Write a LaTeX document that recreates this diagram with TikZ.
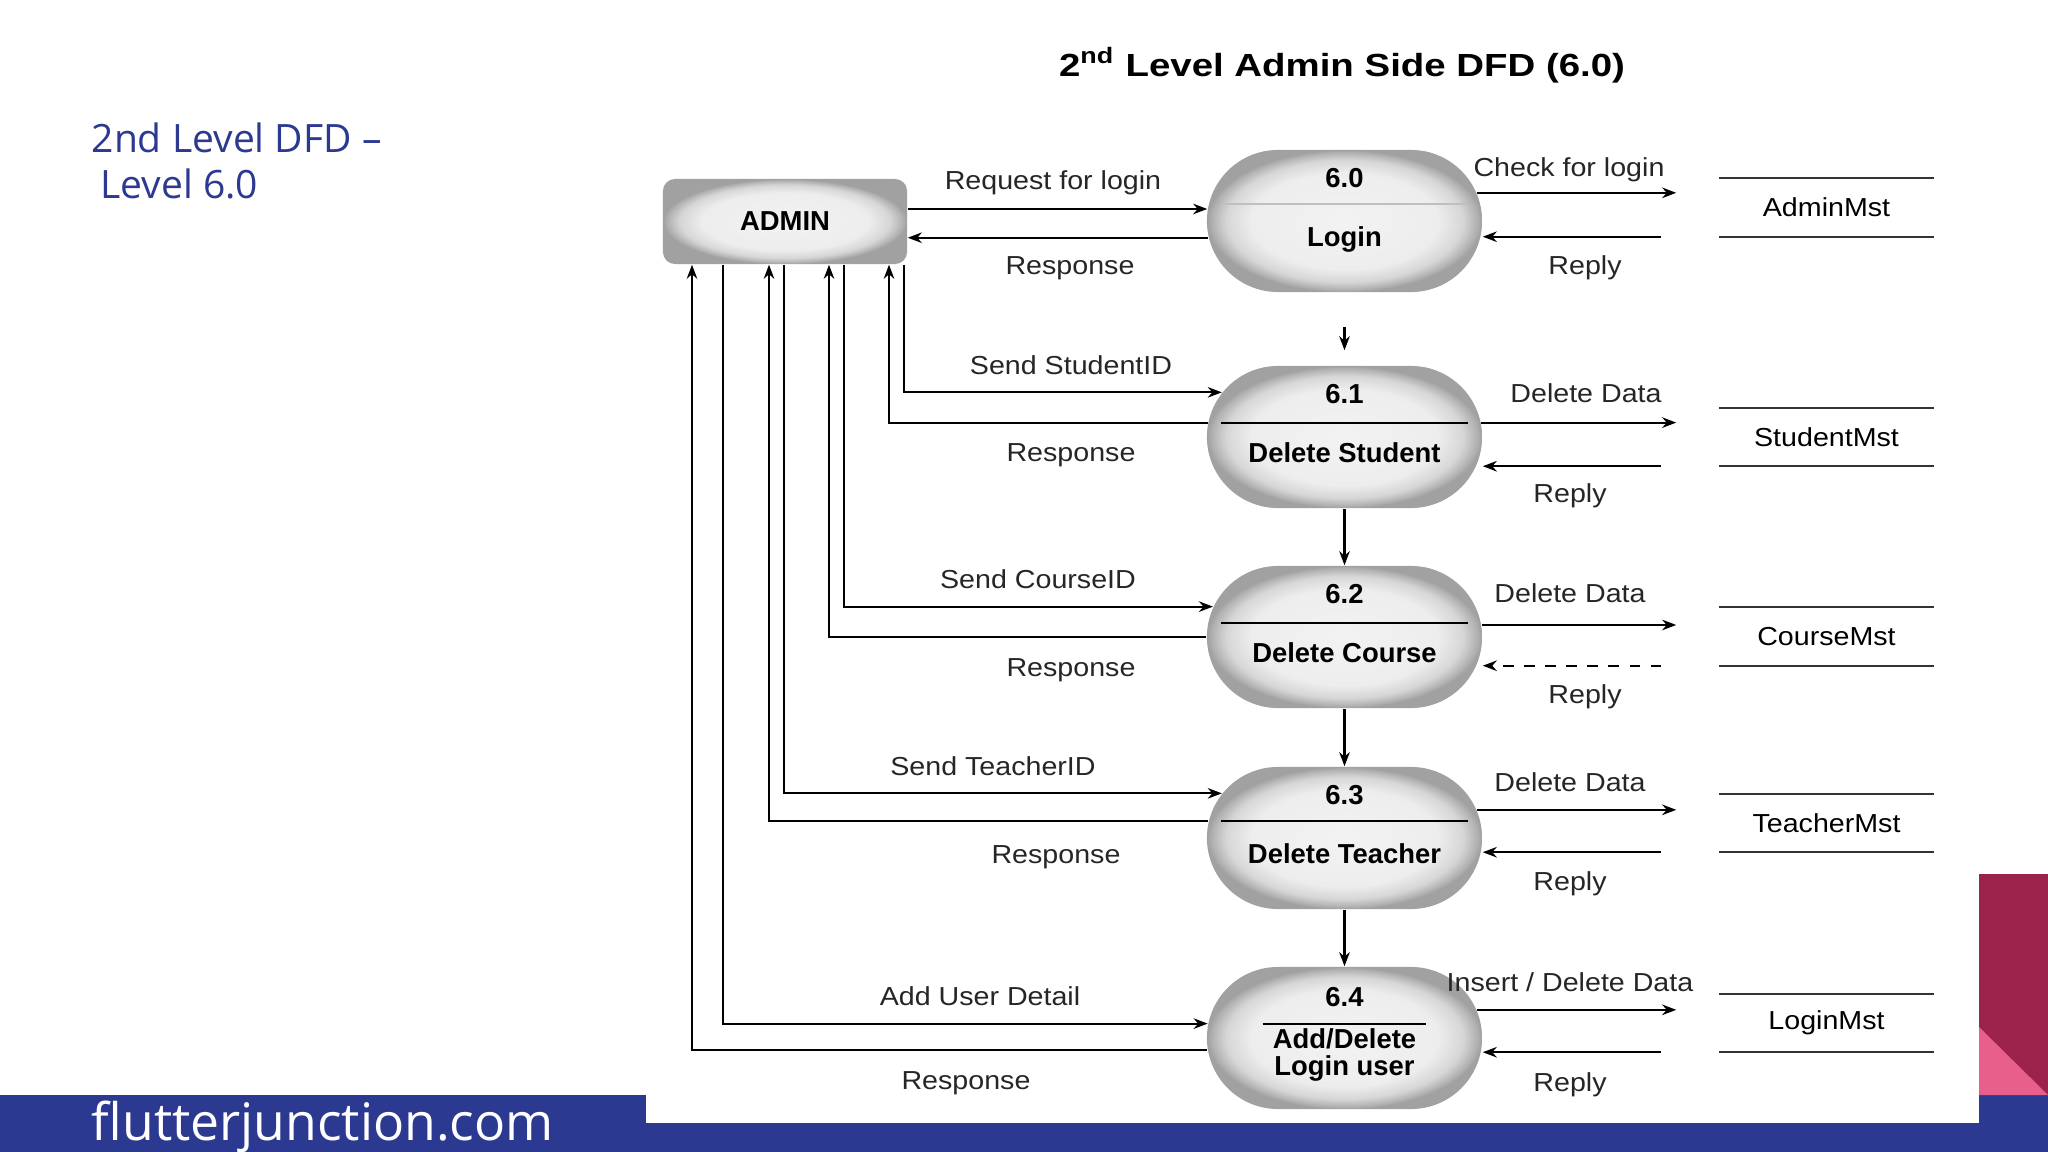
\documentclass[tikz,border=0pt]{standalone}
\usepackage{fontspec}
\setmainfont{Liberation Sans}
\newfontfamily\dfdlabel[FakeStretch=1.1]{Liberation Sans}
\newfontfamily\dfdtitle[FakeStretch=1.2]{Liberation Sans}
\newfontfamily\slidefont{Open Sans}
\usetikzlibrary{arrows.meta,shapes.misc}

\definecolor{slideblue}{RGB}{43,57,144}
\definecolor{slidewine}{RGB}{155,35,75}
\definecolor{slidepink}{RGB}{233,95,140}

% Ombrage gris des bulles
\pgfdeclareradialshading{bubble}{\pgfpointorigin}{color(0bp)=(black!5); color(17bp)=(black!7); color(21.5bp)=(black!16); color(24bp)=(black!30); color(25bp)=(black!37); color(50bp)=(black!37)}

\begin{document}
\begin{tikzpicture}[x=0.01cm, y=-0.01cm]
    \tikzset{
        flow/.style={draw, line width=0.6pt, -{Stealth[length=4pt,width=3pt]}},
        process/.style={rounded rectangle, minimum width=2.75cm, minimum height=1.42cm, inner sep=0pt, shading=bubble},
        entity/.style={rectangle, rounded corners=0.12cm, minimum width=2.44cm, minimum height=0.85cm, shading=bubble, font=\fontsize{7.8}{9}\selectfont\bfseries},
        store/.style={minimum width=2.13cm, minimum height=0.57cm, inner sep=0pt, font=\dfdlabel\fontsize{7.4}{9}\selectfont},
        storeline/.style={line width=0.6pt, black!80},
        lbl/.style={anchor=base, inner sep=0pt, font=\dfdlabel\fontsize{7.4}{9}\selectfont, text=black!85},
        procnum/.style={anchor=base, inner sep=0pt, font=\fontsize{7.8}{9}\selectfont\bfseries},
        divider/.style={line width=0.6pt}
    }

    % Fond de la diapositive
    \fill[white] (0,0) rectangle (2048,1152);
    \useasboundingbox (0,0) rectangle (2048,1152);
    \fill[slideblue] (0,1095) rectangle (2048,1152);
    \fill[white] (646,1080) rectangle (1979,1123);
    \fill[slidewine] (1979,874) rectangle (2048,1095);
    \fill[slidepink] (1979,1027) -- (1979,1095) -- (2048,1095) -- cycle;

    \node[anchor=north west, inner sep=0pt, align=left, text=slideblue, font=\slidefont\fontsize{11.1}{13.1}\selectfont] (slidetitle) at (91,122) {2nd Level DFD –\\\hspace*{0.22em}Level 6.0};
    \node[anchor=base west, inner sep=0pt, text=white, font=\slidefont\fontsize{14.7}{16}\selectfont] (site) at (91,1140) {flutterjunction.com};

    % Titre du DFD
    \node[anchor=base, inner sep=0pt, font=\dfdtitle\bfseries\fontsize{9.1}{11}\selectfont] (title) at (1342,77) {2\textsuperscript{nd} Level Admin Side DFD (6.0)};

    % Entite externe
    \node[entity] (admin) at (785,221.5) {ADMIN};

    % Processus 6.0 a 6.4
    \foreach \n/\y in {60/221,61/437,62/637,63/838,64/1038}
        \node[process] (p\n) at (1344.5,\y) {};
    \foreach \n/\num/\txt in {60/6.0/Login,61/6.1/Delete Student,62/6.2/Delete Course,63/6.3/Delete Teacher} {
        \node[procnum] (num\n) at ([yshift=0.33cm]p\n.center) {\num};
        \node[procnum] (name\n) at ([yshift=-0.25cm]p\n.center) {\txt};
    }
    \node[procnum] (num64) at ([yshift=0.31cm]p64.center) {6.4};
    \node[procnum, anchor=center, align=center, font=\fontsize{7.8}{7.7}\selectfont\bfseries] (name64) at ([yshift=-0.17cm]p64.center) {Add/Delete\\Login user};

    % Traits de separation
    \draw[divider, black!25] ([xshift=0.13cm]p60.173) -- ([xshift=-0.13cm]p60.7);
    \foreach \n/\a/\b in {61/174/6,62/174/6,63/173/7}
        \draw[divider] ([xshift=0.13cm]p\n.\a) -- ([xshift=-0.13cm]p\n.\b);
    \draw[divider] ([xshift=0.55cm]p64.174) -- ([xshift=-0.55cm]p64.6);

    % Magasins de donnees
    \foreach \n/\y/\txt in {60/207.5/AdminMst,61/437/StudentMst,62/636.5/CourseMst,63/823/TeacherMst,64/1023/LoginMst} {
        \node[store] (s\n) at (1826.5,\y) {\txt};
        \draw[storeline] (s\n.north west) -- (s\n.north east) (s\n.south west) -- (s\n.south east);
    }

    % Flux vers les magasins
    \foreach \n/\a in {60/12,61/6,62/5,63/12.5,64/12.5}
        \draw[flow, shorten >=0.43cm] (p\n.\a) -- (s\n.west |- p\n.\a);
    \foreach \n/\st in {60/solid,61/solid,62/dashed,63/solid,64/solid}
        \draw[flow, \st, shorten <=0.58cm] (s\n.south west) -- (s\n.south west -| p\n.east);

    % Flux ADMIN <-> processus
    \draw[flow] (admin.east |- p60.175) -- (p60.175);
    \draw[flow] (p60.187) -- (admin.east |- p60.187);
    \draw[flow] (admin.south -| 904,0) |- (p61.160);
    \draw[flow] (p61.174) -| (admin.south -| 889,0);
    \draw[flow] (admin.south -| 844,0) |- (p62.167);
    \draw[flow] (p62.180) -| (admin.south -| 829,0);
    \draw[flow] (admin.south -| 784,0) |- (p63.160);
    \draw[flow] (p63.173) -| (admin.south -| 769,0);
    \draw[flow] (admin.south -| 723,0) |- (p64.174);
    \draw[flow] (p64.185) -| (admin.south -| 692,0);

    % Enchainement des processus
    \draw[flow, shorten <=0.34cm, shorten >=0.15cm] (p60) -- (p61);
    \foreach \a/\b in {61/62,62/63,63/64}
        \draw[flow] (p\a) -- (p\b);

    % Libelles des flux
    \foreach \i/\x/\y/\t in {1/1053/190/Request for login, 2/1070/275/Response, 3/1071/375/Send StudentID, 4/1071/462/Response, 5/1038/589/Send CourseID, 6/1071/676/Response, 7/993/775/Send TeacherID, 8/1056/863/Response, 9/980/1005/Add User Detail, 10/966/1089/Response}
        \node[lbl] (la\i) at (\x,\y) {\t};
    \foreach \i/\x/\y/\t in {1/1569/177/Check for login, 2/1585/275/Reply, 3/1586/403/Delete Data, 4/1570/503/Reply, 5/1570/603/Delete Data, 6/1585/703/Reply, 7/1570/791/Delete Data, 8/1570/890/Reply, 10/1570/1091/Reply}
        \node[lbl] (lb\i) at (\x,\y) {\t};
    \node[lbl] (lb9) at (1570,991) {Insert / Delete Data};

\end{tikzpicture}
\end{document}
